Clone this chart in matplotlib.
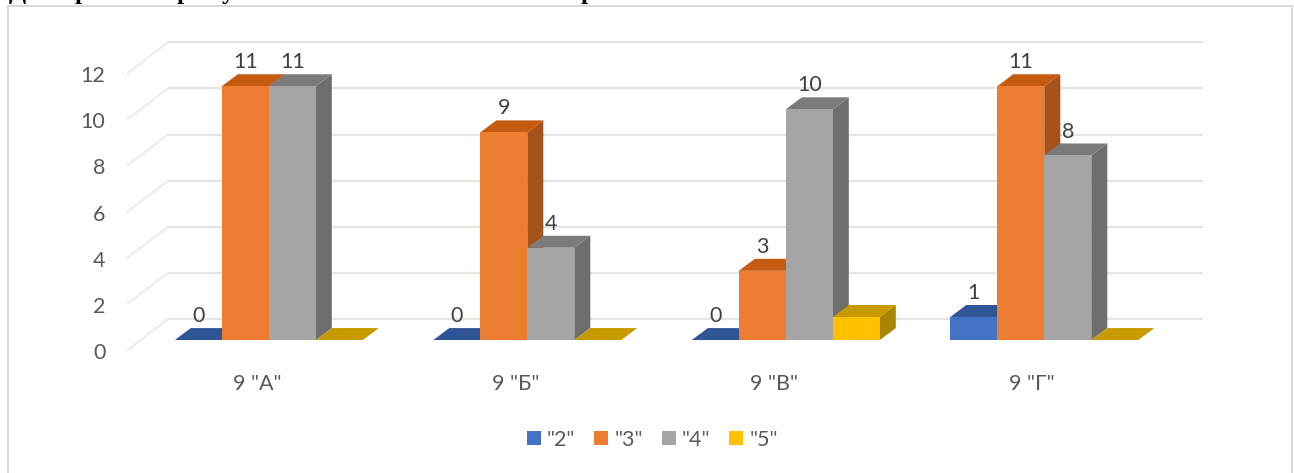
import matplotlib
matplotlib.use("Agg")
import matplotlib.pyplot as plt
from matplotlib.patches import Polygon, Patch, Rectangle

categories = ['9 "А"', '9 "Б"', '9 "В"', '9 "Г"']
series_names = ['"2"', '"3"', '"4"', '"5"']
values_2 = [0, 0, 0, 1]
values_3 = [11, 9, 3, 11]
values_4 = [11, 4, 10, 8]
values_5 = [0, 0, 1, 0]
y_ticks = [0, 2, 4, 6, 8, 10, 12]

W, H = 1294, 473
DPI = 100
FRONT = ['#4472C4', '#ED7D31', '#A5A5A5', '#FFC000']
TOP = ['#2F5597', '#C55A11', '#7B7B7B', '#C79A00']
SIDE = ['#2A4D88', '#A5521B', '#6E6E6E', '#A98500']
LABELED = [True, True, True, False]
GRID = '#E4E4E4'
TICK_COL = '#595959'
LABEL_COL = '#404040'
FONT = 'Lato'
FS = 15.5
EM = FS * DPI / 72.0

# pixel layout
px_per_cat = 258.5
px_per_val = 23.15
x_c0, y_v0 = 268.8, 341.0          # pixel of first group centre / value 0 on bars
left, right, top, bottom = 127.5, 1203.0, 42.0, 351.0

bar_w = 47.0 / px_per_cat
depth_x = 16.0 / px_per_cat
depth_y = 12.0 / px_per_val
wall_x = (168.0 - left) / px_per_cat
wall_dy = (y_v0 - 320.0) / px_per_val
front_dy = (bottom - y_v0) / px_per_val
label_dy = 24.0 / px_per_val
ytick_shift = 1.0 / px_per_val

fig = plt.figure(figsize=(W / DPI, H / DPI), dpi=DPI, facecolor='white')
ax = fig.add_axes([left / W, 1 - bottom / H, (right - left) / W, (bottom - top) / H])
ax.set_xlim((left - x_c0) / px_per_cat, (right - x_c0) / px_per_cat)
ax.set_ylim((y_v0 - bottom) / px_per_val, (y_v0 - top) / px_per_val)
for s in ax.spines.values():
    s.set_visible(False)
ax.patch.set_visible(False)

x0, x1 = ax.get_xlim()
px = 72.0 / DPI

# walls
for v in y_ticks:
    ax.plot([x0 + wall_x, x1], [v + wall_dy, v + wall_dy], color=GRID, lw=2.2 * px,
            clip_on=False, solid_capstyle='butt', zorder=1)
    ax.plot([x0, x0 + wall_x], [v - front_dy, v + wall_dy], color='#E2E2E2', lw=1.2 * px,
            clip_on=False, zorder=1)

# bars
all_series = [values_2, values_3, values_4, values_5]
for g in range(len(categories)):
    for k, vals in enumerate(all_series):
        v = vals[g]
        xl = g + (k - 2) * bar_w
        xr = xl + bar_w
        z = 3 + g * 4 + k
        if v > 0:
            ax.add_patch(Polygon([(xr, 0), (xr + depth_x, depth_y), (xr + depth_x, v + depth_y), (xr, v)],
                                 closed=True, fc=SIDE[k], ec='none', zorder=z))
        ax.add_patch(Polygon([(xl, v), (xl + depth_x, v + depth_y), (xr + depth_x, v + depth_y), (xr, v)],
                             closed=True, fc=TOP[k], ec='none', zorder=z))
        if v > 0:
            ax.bar(xl, v, width=bar_w, align='edge', color=FRONT[k], lw=0, zorder=z)
        if LABELED[k]:
            ax.text((xl + xr) / 2, v + label_dy, str(v), ha='center', va='center',
                    family=FONT, fontsize=FS, color=LABEL_COL, zorder=40)

# axes ticks
ax.set_yticks([v - front_dy - ytick_shift for v in y_ticks], [str(v) for v in y_ticks])
ax.set_xticks([g - 12.0 / px_per_cat for g in range(len(categories))], categories)
ax.tick_params(axis='y', length=0, pad=22 * px, labelsize=FS, labelcolor=TICK_COL)
ax.tick_params(axis='x', length=0, pad=22.5 * px, labelsize=FS, labelcolor=TICK_COL)
for t in ax.get_xticklabels() + ax.get_yticklabels():
    t.set_family(FONT)

# legend
handles = [Patch(fc=c, ec='none', label=n) for c, n in zip(FRONT, series_names)]
fig.legend(handles=handles, loc='center', bbox_to_anchor=(652.5 / W, 1 - 439.5 / H), ncol=4,
           frameon=False, prop={'family': FONT, 'size': FS}, labelcolor=TICK_COL,
           handlelength=14 / EM, handleheight=14 / EM, handletextpad=6 / EM,
           columnspacing=19 / EM, borderpad=0, borderaxespad=0)

# chart frame, open past the lower edge of the picture
fig.add_artist(Rectangle((7.5 / W, -0.1), (1292 - 7.5) / W, 1.1 - 6.0 / H,
                         transform=fig.transFigure, fc='none', ec='#D9D9D9', lw=2 * px))

# remnants of the cut-off heading above the chart
for xp, ch in [(17, 'Д'), (82, 'р'), (184, 'р'), (228, 'у'), (588, 'р')]:
    fig.text(xp / W, 1 + 1.0 / H, ch, ha='center', va='baseline', color='black',
             family='Liberation Serif', weight='bold', fontsize=18)

fig.savefig('out.png', dpi=DPI, facecolor='white')
